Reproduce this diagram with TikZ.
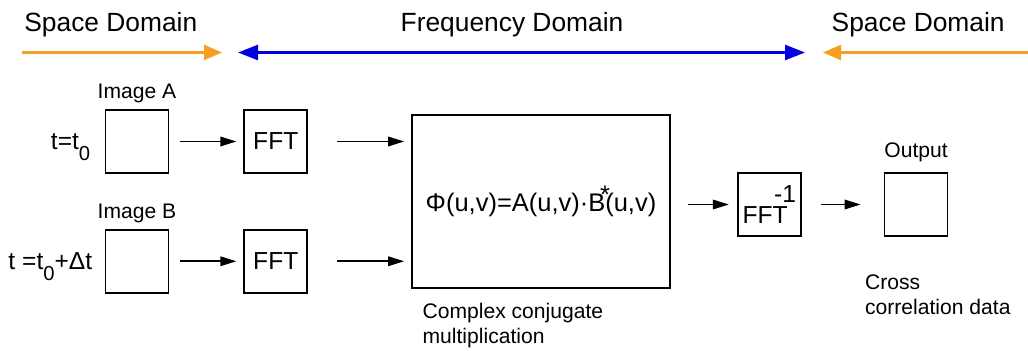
\documentclass[tikz,border=0pt]{standalone}
\usepackage{fontspec}
\setmainfont{Liberation Sans}
\usepackage{xcolor}
\usepackage{tikz}
\usetikzlibrary{arrows.meta}
\usetikzlibrary{calc}
\usetikzlibrary{positioning}
\definecolor{spcol}{RGB}{245,160,35}
\definecolor{frcol}{RGB}{0,0,225}
\newcommand{\lowr}[1]{\raisebox{-0.45em}[0pt][0pt]{\fontsize{11.5}{13}\selectfont #1}}

\begin{document}
\begin{tikzpicture}[-,auto,semithick]
  \tikzstyle{blk}=[draw, rectangle, line width=1pt, minimum size=1.26cm, inner sep=0pt, font=\fontsize{14}{16}\selectfont]
  \tikzstyle{lbl}=[font=\fontsize{12}{14.4}\selectfont]
  \tikzstyle{tlbl}=[font=\fontsize{14}{16}\selectfont]
  \tikzstyle{dom}=[font=\fontsize{15}{18}\selectfont, anchor=base]
  \tikzstyle{arr}=[-{Triangle[length=0.32cm,width=0.19cm]}, line width=1pt]
  \tikzstyle{darr}=[line width=1.4pt]
  \useasboundingbox (0,0) rectangle (20.56,-7.02);

  % domains
  \node[dom, anchor=base west] (sd1) at (0.36,-0.64) {Space Domain};
  \node[dom] (fd) at (10.24,-0.64) {Frequency Domain};
  \node[dom, anchor=base east] (sd2) at (20.22,-0.64) {Space Domain};
  \coordinate (s1a) at (0.44,-1.05);
  \coordinate (s1b) at (4.44,-1.05);
  \coordinate (f1) at (4.76,-1.05);
  \coordinate (f2) at (16.1,-1.05);
  \coordinate (s2a) at (20.6,-1.05);
  \coordinate (s2b) at (16.46,-1.05);
  \draw[darr, spcol, -{Triangle[length=0.36cm,width=0.3cm]}] (s1a) -- (s1b);
  \draw[darr, frcol, {Triangle[length=0.4cm,width=0.3cm]}-{Triangle[length=0.4cm,width=0.3cm]}] (f1) -- (f2);
  \draw[darr, spcol, -{Triangle[length=0.36cm,width=0.3cm]}] (s2a) -- (s2b);

  % inputs
  \node[blk, label={[lbl]above:Image A}, label={[tlbl,label distance=0.16cm]left:t=t\lowr{0}}] (imgA) at (2.74,-2.83) {};
  \node[blk, label={[lbl]above:Image B}, label={[tlbl,label distance=0.12cm]left:t =t\lowr{0}+Δt}] (imgB) [below=1.1cm of imgA] {};
  \node[blk] (fftA) [right=1.48cm of imgA] {FFT};
  \node[blk] (fftB) [right=1.48cm of imgB] {FFT};

  % product
  \node[draw, line width=1pt, minimum width=5.16cm, minimum height=3.46cm, font=\fontsize{14.5}{17}\selectfont] (mult) at (10.82,-4.03)
    {Φ(u,v)=A(u,v)·B\rlap{\hspace{-0.2em}\raisebox{0.3em}{*}}(u,v)};
  \node[lbl, anchor=north west, align=left, inner sep=0pt] (cc) at ([xshift=0.22cm,yshift=-0.27cm]mult.south west) {Complex conjugate\\multiplication};

  % output
  \node[blk] (ifft) [right=1.32cm of mult, yshift=-0.06cm] {FFT\hspace{-0.55em}\raisebox{0.85em}{-1}};
  \node[blk, label={[lbl,label distance=2pt]above:Output}] (out) [right=1.64cm of ifft] {};
  \node[lbl, anchor=north west, align=left, inner sep=0pt] (cr) at ([xshift=-0.38cm,yshift=-0.74cm]out.south west) {Cross\\correlation data};

  \foreach \i in {A,B}{
    \draw[arr, shorten <=0.22cm, shorten >=0.14cm] (img\i) -- (fft\i);
    \draw[arr, shorten <=0.58cm, shorten >=0.14cm] (fft\i.east) -- (fft\i.east -| mult.west);
  }
  \draw[arr, shorten <=0.34cm, shorten >=0.16cm] (ifft.west -| mult.east) -- (ifft.west);
  \draw[arr, shorten <=0.38cm, shorten >=0.46cm] (ifft) -- (out);
\end{tikzpicture}
\end{document}
